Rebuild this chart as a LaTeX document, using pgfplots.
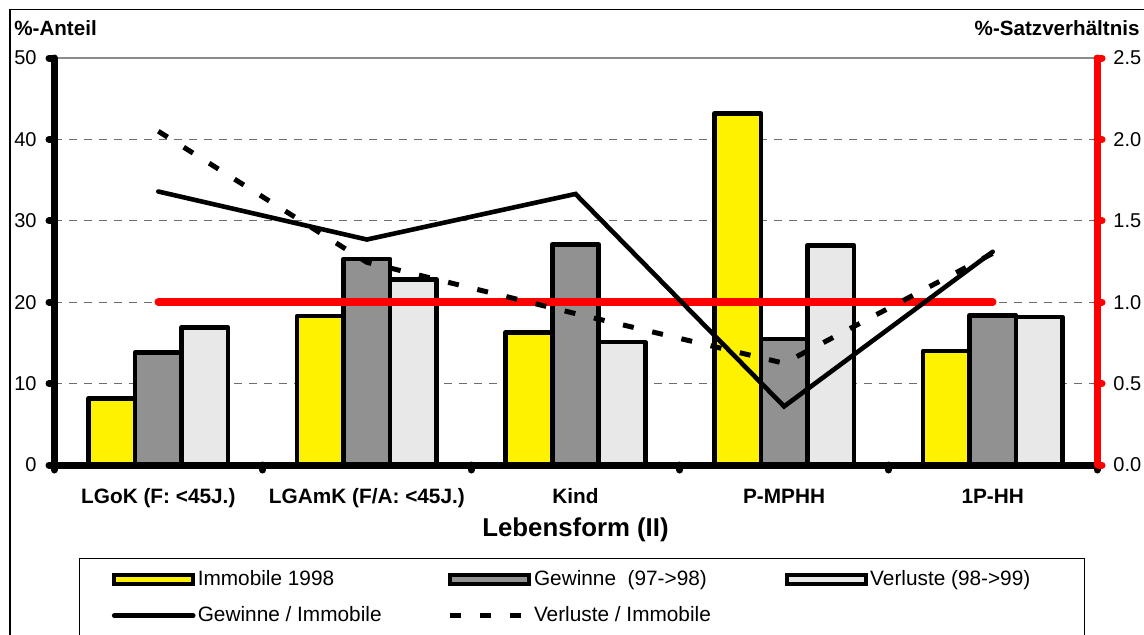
\documentclass[border=0pt]{standalone}
\usepackage{fontspec}
\setmainfont{Liberation Sans}
\usepackage{pgfplots}
\pgfplotsset{compat=1.18}

\definecolor{gewinne}{RGB}{145,145,145}
\definecolor{verluste}{RGB}{232,232,232}
\definecolor{gridgray}{RGB}{110,110,110}

\pgfplotsset{
  layers/mylayers/.define layer set={
    axis background,axis grid,pre main,main,axis ticks,axis lines,axis tick labels,axis descriptions,axis foreground
  }{
    grid style={/pgfplots/on layer=axis grid},
    tick style={/pgfplots/on layer=axis ticks},
    axis line style={/pgfplots/on layer=axis lines},
    label style={/pgfplots/on layer=axis descriptions},
    legend style={/pgfplots/on layer=axis descriptions},
    title style={/pgfplots/on layer=axis descriptions},
    colorbar style={/pgfplots/on layer=axis descriptions},
    ticklabel style={/pgfplots/on layer=axis tick labels},
    axis background@ style={/pgfplots/on layer=axis background},
    3d box foreground style={/pgfplots/on layer=axis foreground},
  },
  mylineleg/.style={legend image code/.code={\draw[##1] (1pt,0pt) -- (40.5pt,0pt);}},
  mybarleg/.style={legend image code/.code={\path (0pt,0pt) -- (41.5pt,0pt);\draw[fill=#1, line width=2pt] (1pt,-2.25pt) rectangle (40.5pt,2.25pt);}},
}

\begin{document}
\begin{tikzpicture}
\draw[line width=0.6pt] (5pt,-20pt) rectangle (600pt,312.25pt);

% left axis: bars
\begin{axis}[
  set layers=mylayers,
  at={(27pt,84.5pt)}, anchor=south west,
  scale only axis, width=521.5pt, height=203.5pt,
  clip=false,
  xmin=-0.5, xmax=4.5, ymin=0, ymax=50,
  axis x line=bottom, axis y line=left,
  axis line style={-, black, line width=3.5pt, line cap=round},
  /pgf/number format/assume math mode=true,
  tick label style={font=\fontsize{10}{12}\selectfont},
  tick align=outside,
  major tick length=2.5pt,
  tick style={black, line width=3.5pt, line cap=round},
  ytick={0,10,20,30,40,50},
  yticklabel style={xshift=-2.7pt},
  ymajorgrids=true,
  major grid style={dash pattern=on 4pt off 3.5pt, gridgray, line width=0.5pt, line cap=butt},
  xtick={-0.5,0.5,1.5,2.5,3.5,4.5},
  xticklabels={},
  extra x ticks={0,1,2,3,4},
  extra x tick labels={LGoK (F: <45J.), LGAmK (F/A: <45J.), Kind, P-MPHH, 1P-HH},
  extra x tick style={major tick length=0pt, tick style={draw=none}, xmajorgrids=false,
    xticklabel style={font=\bfseries\fontsize{10.4}{12}\selectfont, anchor=center, yshift=-16.5pt, text height=7.5pt, text depth=2pt}},
  xlabel={Lebensform (II)},
  every axis x label/.style={at={(axis description cs:0.5,-0.1597)}, anchor=center, font=\bfseries\fontsize{12.9}{15}\selectfont},
  ylabel={\%-Anteil},
  every axis y label/.style={at={(axis description cs:-0.0384,1.0737)}, anchor=west, inner sep=0pt, font=\bfseries\fontsize{10.3}{12}\selectfont},
  bar width=23.25pt,
]
\draw[gridgray!80, line width=1pt] (axis cs:-0.5,50) -- (axis cs:4.5,50);
\addplot[ybar, bar shift=-23.25pt, fill=yellow, draw=black, line width=2.3pt, line join=round]
  coordinates {(0,8.2) (1,18.3) (2,16.3) (3,43.2) (4,14.0)};
\addplot[ybar, bar shift=0pt, fill=gewinne, draw=black, line width=2.3pt, line join=round]
  coordinates {(0,13.8) (1,25.3) (2,27.1) (3,15.5) (4,18.4)};
\addplot[ybar, bar shift=23.25pt, fill=verluste, draw=black, line width=2.3pt, line join=round]
  coordinates {(0,16.9) (1,22.8) (2,15.1) (3,27.0) (4,18.2)};
\end{axis}

% right axis: ratios
\begin{axis}[
  set layers=mylayers,
  at={(27pt,84.5pt)}, anchor=south west,
  scale only axis, width=521.5pt, height=203.5pt,
  clip=false,
  xmin=-0.5, xmax=4.5, ymin=0, ymax=2.5,
  axis x line=none, axis y line*=right,
  xtick=\empty,
  axis line style={-, red, line width=3.5pt, line cap=round},
  /pgf/number format/assume math mode=true,
  tick label style={font=\fontsize{10}{12}\selectfont},
  tick align=outside,
  major tick length=2.5pt,
  tick style={red, line width=3.5pt, line cap=round},
  ytick={0,0.5,1,1.5,2,2.5},
  yticklabel style={/pgf/number format/fixed, /pgf/number format/fixed zerofill, /pgf/number format/precision=1, xshift=2.2pt},
  ylabel={\%-Satzverhältnis},
  every axis y label/.style={at={(axis description cs:1.0412,1.0737)}, anchor=east, inner sep=0pt, font=\bfseries\fontsize{10.3}{12}\selectfont},
  legend columns=3,
  legend style={
    at={(axis description cs:0.02397,-0.2285)}, anchor=north west,
    draw=black, line width=0.6pt, fill=white,
    inner xsep=16pt, inner ysep=5pt,
    row sep=7pt, column sep=0pt,
    font=\fontsize{10.4}{12}\selectfont,
    cells={anchor=west},
    nodes={inner sep=1pt, text depth=0.15em},
  },
]
\addlegendimage{mybarleg=yellow}
\addlegendentry{\makebox[124pt][l]{Immobile 1998}}
\addlegendimage{mybarleg=gewinne}
\addlegendentry{\makebox[124pt][l]{Gewinne~ (97->98)}}
\addlegendimage{mybarleg=verluste}
\addlegendentry{\makebox[90pt][l]{Verluste (98->99)}}

\addplot[red, line width=3.8pt, line cap=round, forget plot]
  coordinates {(0,1) (1,1) (2,1) (3,1) (4,1)};
\addplot[black, line width=2.3pt, line cap=round, mylineleg]
  coordinates {(0,1.68) (1,1.385) (2,1.665) (3,0.36) (4,1.31)};
\addlegendentry{\makebox[124pt][l]{Gewinne / Immobile}}
\addplot[black, line width=2.5pt, dash pattern=on 5.5pt off 9.5pt, mylineleg]
  coordinates {(0,2.05) (1,1.245) (2,0.93) (3,0.625) (4,1.30)};
\addlegendentry{\makebox[124pt][l]{Verluste / Immobile}}
\end{axis}
\pgfresetboundingbox
\useasboundingbox (0,0) rectangle (572pt,317pt);
\end{tikzpicture}
\end{document}
